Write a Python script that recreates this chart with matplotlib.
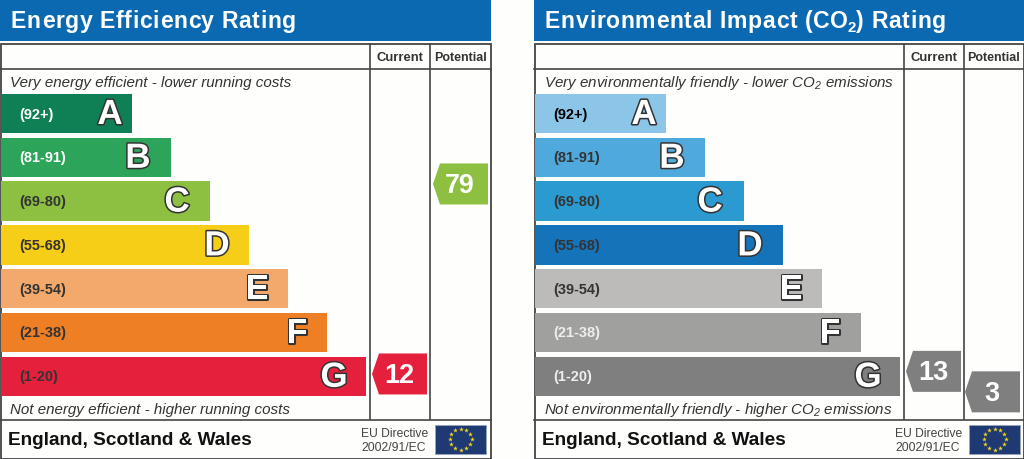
import matplotlib
matplotlib.use("Agg")
import matplotlib.pyplot as plt
import matplotlib.patheffects as pe
import numpy as np
from matplotlib.font_manager import FontProperties
from matplotlib.patches import Polygon, Rectangle
from matplotlib.textpath import TextPath

plt.rcParams["font.family"] = ["Liberation Sans", "DejaVu Sans"]
plt.rcParams["mathtext.default"] = "regular"

# band data
letters = ["A", "B", "C", "D", "E", "F", "G"]
ranges = ["(92+)", "(81-91)", "(69-80)", "(55-68)", "(39-54)", "(21-38)", "(1-20)"]
bar_lengths = [131, 170, 209, 248, 287, 326, 365]

energy_colors = ["#0f8055", "#2ca55a", "#8dbf41", "#f6cd17", "#f3a96b", "#ee7f24", "#e4203c"]
energy_range_colors = ["#ffffff", "#ffffff", "#333333", "#333333", "#333333", "#333333", "#333333"]
env_colors = ["#8bc5e7", "#4fa9dc", "#2a9ad1", "#1573b9", "#bcbbb9", "#a0a09f", "#7f7f7f"]
env_range_colors = ["#000000", "#333333", "#333333", "#333333", "#333333", "#eeeeee", "#eeeeee"]

energy_current = 12
energy_potential = 79
env_current = 13
env_potential = 3

DARK = "#444444"
BLUE = "#0a69b0"
BG = "#fefefd"
PX = 0.72  # points per pixel at dpi 100
bold = FontProperties(family="Liberation Sans", weight="bold")


def text_width(s, size):
    return TextPath((0, 0), s, size=size, prop=bold).get_extents().x1


def spaced_title(ax, x, y, pieces, spacing):
    # the original title has wide letter spacing, matplotlib has no option for it
    for s, size, dy in pieces:
        for i, ch in enumerate(s):
            if ch != " ":
                cx = x + text_width(s[:i + 1], size) - text_width(ch, size) + spacing * i
                ax.text(cx, y + dy, ch, color="white", fontsize=size * PX, fontweight="bold",
                        ha="left", va="baseline", zorder=4)
        x += text_width(s, size) + spacing * len(s)


def draw_arrow(ax, x0, yc, value, color):
    # pointer on the left, 55 wide, 41 high
    pts = [(x0, yc), (x0 + 7, yc - 20.5), (x0 + 55, yc - 20.5), (x0 + 55, yc + 20.5), (x0 + 7, yc + 20.5)]
    ax.add_patch(Polygon(pts, closed=True, facecolor=color, edgecolor="none", zorder=3))
    ax.text(x0 + 27, yc + 1, str(value), color="white", fontsize=27 * PX, fontweight="bold",
            ha="center", va="center", zorder=4)


def draw_flag(ax, x0):
    ax.add_patch(Rectangle((x0, 426), 51, 28.5, facecolor="#1f3a73", edgecolor="#9aa5bd", linewidth=0.6, zorder=3))
    ang = np.arange(12) * np.pi / 6
    ax.scatter(x0 + 25.5 + 11 * np.cos(ang), 440 + 10.5 * np.sin(ang), marker="*", s=13,
               color="#f5d61a", linewidths=0, zorder=4)


def draw_panel(ax, x0, width, title_pieces, top_text, bottom_text, colors, range_colors, offsets):
    right = x0 + width
    col1 = x0 + 370
    col2 = x0 + 430

    ax.add_patch(Rectangle((x0, 0), width, 41.5, facecolor=BLUE, edgecolor="none", zorder=1))
    spaced_title(ax, x0 + 11, 28, title_pieces, 0.62)

    # frame, the bars sit on top of it
    ax.add_patch(Rectangle((x0 + 0.5, 45), width - 1, 414.5, facecolor="none", edgecolor=DARK, linewidth=1.3, zorder=1.5))
    ax.plot([x0, right], [69.5, 69.5], color=DARK, lw=1.2, zorder=1.5)
    ax.plot([x0, right], [420.5, 420.5], color=DARK, lw=1.2, zorder=1.5)
    ax.plot([col1, col1], [45, 420], color=DARK, lw=1.2, zorder=1.5)
    ax.plot([col2, col2], [45, 420], color=DARK, lw=1.2, zorder=1.5)

    ax.text((col1 + col2) / 2, 58, "Current", color="#333333", fontsize=13 * PX, fontweight="bold", ha="center", va="center")
    ax.text((col2 + right) / 2, 58, "Potential", color="#333333", fontsize=12.5 * PX, fontweight="bold", ha="center", va="center")

    ax.text(x0 + 10.5, 83, top_text, color="#333333", fontsize=15.1 * PX, style="italic", ha="left", va="center")
    ax.text(x0 + 10.5, 410, bottom_text, color="#333333", fontsize=15.1 * PX, style="italic", ha="left", va="center")

    ys = 114.5 + 43.8 * np.arange(len(letters))
    ax.barh(ys, bar_lengths, left=x0 + 1, height=39.5, color=colors, zorder=2)
    for i in range(len(letters)):
        ax.text(x0 + 19, ys[i], ranges[i], color=range_colors[i], fontsize=14.5 * PX, fontweight="bold",
                ha="left", va="center", zorder=3)
        t = ax.text(x0 + 1 + bar_lengths[i] - offsets[i], ys[i] + 1, letters[i], color="white", fontsize=35 * PX,
                    fontweight="bold", ha="center", va="center", zorder=4)
        t.set_path_effects([pe.Stroke(linewidth=2.2, foreground="#333333"), pe.Normal()])

    ax.text(x0 + 8, 441, "England, Scotland & Wales", color="#111111", fontsize=19 * PX, fontweight="bold",
            ha="left", va="center")
    ax.text(x0 + 361, 434.5, "EU Directive", color="#444444", fontsize=12.1 * PX, ha="left", va="center")
    ax.text(x0 + 361, 448, "2002/91/EC", color="#444444", fontsize=12.1 * PX, ha="left", va="center")
    draw_flag(ax, x0 + 435)


fig = plt.figure(figsize=(10.24, 4.6), dpi=100, facecolor=BG)
ax = fig.add_axes([0, 0, 1, 1])
ax.set_xlim(0, 1024)
ax.set_ylim(460, 0)
ax.axis("off")

draw_panel(ax, 0, 491, [("Energy Efficiency Rating", 23, 0)],
           "Very energy efficient - lower running costs",
           "Not energy efficient - higher running costs",
           energy_colors, energy_range_colors, [22, 33, 33, 32, 31, 30, 32])
draw_panel(ax, 534, 490, [("Environmental Impact (CO", 23, 0), ("2", 15, 4), (") Rating", 23, 0)],
           "Very environmentally friendly - lower CO$_2$ emissions",
           "Not environmentally friendly - higher CO$_2$ emissions",
           env_colors, env_range_colors, [22, 33, 34, 33, 31, 31, 32])

# each panel has its own score scale on the y axis
draw_arrow(ax, 372, 409 - 2.836 * energy_current, energy_current, energy_colors[6])
draw_arrow(ax, 433, 409 - 2.836 * energy_potential, energy_potential, energy_colors[2])
draw_arrow(ax, 906, 399 - 2.05 * env_current, env_current, env_colors[6])
draw_arrow(ax, 965, 399 - 2.05 * env_potential, env_potential, env_colors[6])

fig.savefig("out.png", dpi=100, facecolor=BG)
